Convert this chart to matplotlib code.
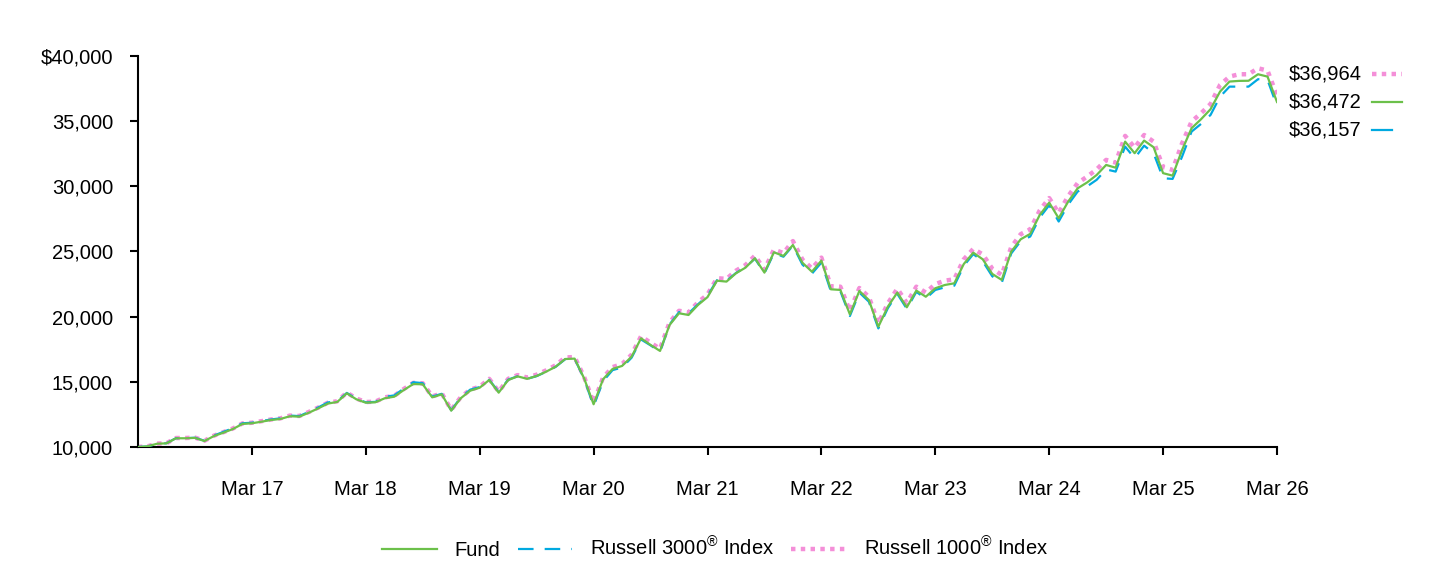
import matplotlib
matplotlib.use("Agg")
import matplotlib.pyplot as plt
from matplotlib.lines import Line2D
from matplotlib.ticker import FuncFormatter, FixedLocator

plt.rcParams['font.family'] = ['Liberation Sans', 'DejaVu Sans']
plt.rcParams['mathtext.fontset'] = 'custom'
plt.rcParams['mathtext.rm'] = 'Liberation Sans'

# Month index 0 = Mar 16 ... 120 = Mar 26
tick_labels = ["Mar 17", "Mar 18", "Mar 19", "Mar 20", "Mar 21",
               "Mar 22", "Mar 23", "Mar 24", "Mar 25", "Mar 26"]

fund = [10000, 10050, 10250, 10280, 10670, 10670, 10700, 10460, 10840, 11100,
        11380, 11770, 11820, 11940, 12070, 12150, 12360, 12330, 12630, 12970,
        13330, 13460, 14120, 13660, 13400, 13430, 13740, 13860, 14370, 14830,
        14810, 13810, 14040, 12790, 13740, 14320, 14550, 15140, 14170, 15140,
        15420, 15230, 15450, 15780, 16160, 16750, 16780, 15270, 13280, 15200,
        15990, 16220, 16930, 18340, 17830, 17370, 19360, 20260, 20130, 20900,
        21500, 22760, 22690, 23330, 23760, 24480, 23380, 24940, 24660, 25500,
        24140, 23450, 24300, 22100, 22050, 20180, 21970, 21280, 19230, 20770,
        21850, 20720, 22000, 21530, 22180, 22430, 22560, 24040, 24910, 24400,
        23280, 22820, 24990, 25940, 26350, 27800, 28750, 27550, 28830, 29850,
        30300, 30870, 31640, 31430, 33430, 32540, 33510, 33000, 31010, 30820,
        32790, 34460, 35150, 35920, 37270, 38040, 38090, 38100, 38600, 38420,
        36472]

russell3000 = [10000, 10040, 10240, 10290, 10680, 10680, 10710, 10480, 10880, 11160,
               11450, 11820, 11860, 11990, 12110, 12200, 12410, 12370, 12700, 13040,
               13420, 13510, 14150, 13700, 13430, 13460, 13850, 13960, 14480, 14970,
               14900, 13870, 14080, 12820, 13800, 14400, 14600, 15160, 14230, 15170,
               15430, 15230, 15440, 15770, 16150, 16730, 16770, 15230, 13150, 15050,
               15900, 16100, 16850, 18250, 17800, 17300, 19400, 20350, 20250, 20950,
               21600, 22800, 22750, 23350, 23800, 24450, 23330, 24880, 24600, 25450,
               24000, 23300, 24150, 21950, 21950, 20050, 21850, 21150, 19100, 20650,
               21750, 20600, 21900, 21400, 22050, 22250, 22380, 23900, 24800, 24250,
               23100, 22600, 24850, 25800, 26150, 27600, 28550, 27300, 28600, 29600,
               30000, 30500, 31300, 31130, 33050, 32160, 33120, 32540, 30620, 30570,
               32280, 34200, 34790, 35480, 36880, 37650, 37650, 37650, 38220, 38170,
               36157]

russell1000 = [10000, 10050, 10260, 10290, 10690, 10690, 10720, 10480, 10870, 11140,
               11420, 11810, 11860, 11980, 12110, 12200, 12410, 12380, 12690, 13030,
               13400, 13510, 14180, 13720, 13450, 13480, 13810, 13930, 14450, 14920,
               14890, 13880, 14120, 12850, 13820, 14400, 14630, 15230, 14250, 15230,
               15520, 15330, 15550, 15880, 16270, 16870, 16900, 15380, 13400, 15330,
               16130, 16370, 17080, 18500, 18000, 17540, 19550, 20450, 20330, 21100,
               21700, 22950, 22900, 23530, 23960, 24680, 23600, 25150, 24880, 25800,
               24380, 23700, 24530, 22330, 22300, 20430, 22200, 21520, 19480, 21020,
               22150, 21050, 22300, 21850, 22500, 22760, 22870, 24400, 25200, 24780,
               23680, 23200, 25340, 26330, 26700, 28150, 29100, 27950, 29250, 30250,
               30750, 31300, 32030, 31820, 33870, 32970, 33940, 33430, 31470, 31260,
               33300, 34970, 35610, 36320, 37780, 38420, 38600, 38600, 39060, 38880,
               36964]

series_names = ["Fund", "Russell 3000$^{®}$ Index", "Russell 1000$^{®}$ Index"]
end_labels = ["$36,964", "$36,472", "$36,157"]

GREEN = "#6CC04A"
BLUE = "#00A9E0"
PINK = "#F48FD8"
FS = 14.5

W, H = 1440, 564
fig = plt.figure(figsize=(W / 100, H / 100), dpi=100)
ax = fig.add_axes([138 / W, 1 - 447 / H, (1277 - 138) / W, (447 - 56) / H])

x = list(range(len(fund)))
ax.plot(x, russell1000, color=PINK, lw=3.2, linestyle=(0, (1, 1.2)), zorder=2)
ax.plot(x, russell3000, color=BLUE, lw=1.6, linestyle=(0, (7, 5)), zorder=3)
ax.plot(x, fund, color=GREEN, lw=1.6, zorder=4)

ax.set_xlim(0, 120)
ax.set_ylim(10000, 40000)
ax.xaxis.set_major_locator(FixedLocator([12 * (i + 1) for i in range(len(tick_labels))]))
ax.set_xticklabels(tick_labels)
ax.set_yticks([10000, 15000, 20000, 25000, 30000, 35000, 40000])
ax.yaxis.set_major_formatter(FuncFormatter(lambda v, p: ("$" if v == 40000 else "") + f"{int(v):,}"))

for s in ["top", "right"]:
    ax.spines[s].set_visible(False)
for s in ["left", "bottom"]:
    ax.spines[s].set_linewidth(1.5)
ax.tick_params(axis='both', direction='out', length=6, width=1.5, labelsize=FS, colors='black')
ax.tick_params(axis='x', pad=18)
ax.tick_params(axis='y', pad=12)

def fx(px):
    return px / W

def fy(py):
    return 1 - py / H

label_rows = [(74, end_labels[0], PINK, (0, (1, 1.2)), 3.2, 1402),
              (102, end_labels[1], GREEN, '-', 1.6, 1402),
              (130, end_labels[2], BLUE, '-', 1.6, 1392)]
for py, txt, col, ls, lw, xend in label_rows:
    fig.text(fx(1289), fy(py), txt, fontsize=FS, va='center', ha='left')
    fig.add_artist(Line2D([fx(1372), fx(xend)], [fy(py), fy(py)], color=col, lw=lw,
                          linestyle=ls, transform=fig.transFigure))

handles = [Line2D([], [], color=GREEN, lw=1.6),
           Line2D([], [], color=BLUE, lw=1.6, linestyle=(0, (7, 5))),
           Line2D([], [], color=PINK, lw=3.2, linestyle=(0, (1, 1.2)))]
fig.legend(handles, series_names, loc='center', bbox_to_anchor=(0.4965, 1 - 548 / H),
           ncol=3, frameon=False, fontsize=FS, handlelength=2.7, handletextpad=0.9,
           columnspacing=0.85)

fig.savefig("out.png", dpi=100)
